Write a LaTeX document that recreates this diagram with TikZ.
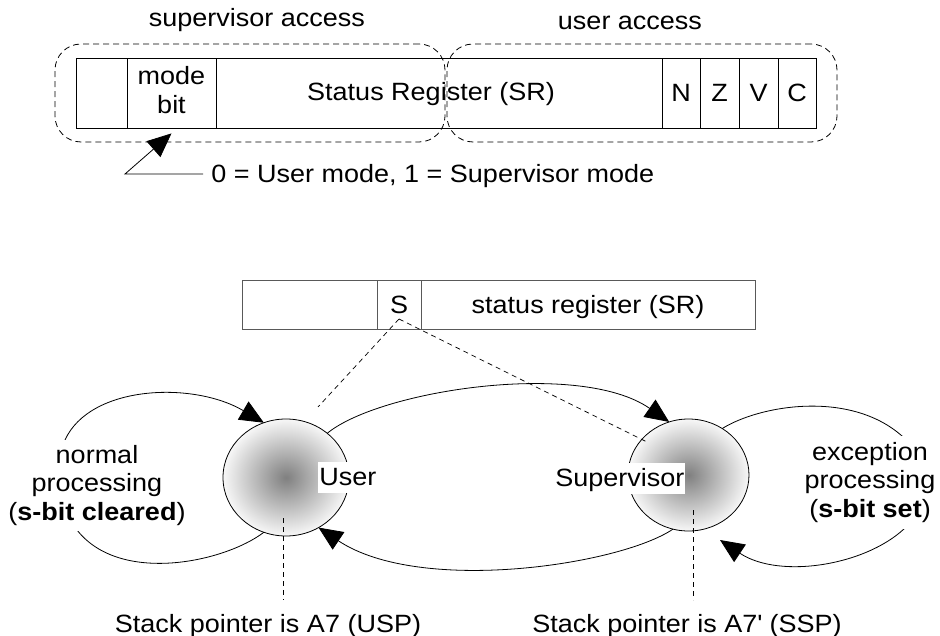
\documentclass[tikz,border=0pt]{standalone}
\usepackage{fontspec}
\setmainfont{Liberation Sans}[FakeStretch=1.08]
\usetikzlibrary{shapes.geometric,arrows.meta}
% soft grey ball used for the two processor states
\pgfdeclareradialshading{ballshade}{\pgfpoint{0bp}{0bp}}{color(0bp)=(black!50); color(25bp)=(black!3); color(50bp)=(black!3)}
\begin{document}
\begin{tikzpicture}[x=1pt,y=-1pt,line width=0.8pt,
  every node/.style={font=\fontsize{25}{28.5}\selectfont},
  cell/.style={draw,inner sep=0pt,text height=18pt,text depth=0pt},
  topcell/.style={cell,minimum height=70pt},
  lowcell/.style={cell,draw=black!65,minimum height=49pt},
  txt/.style={inner sep=0pt,anchor=base},
  region/.style={draw,dash pattern=on 6pt off 4pt,rounded corners=26pt,
    minimum width=390pt,minimum height=98pt,inner sep=0pt},
  state/.style={ellipse,draw,shade,shading=ballshade,inner sep=0pt,outer sep=0pt},
  statelabel/.style={fill=white,inner xsep=1pt,inner ysep=0pt,
    text height=23pt,text depth=8pt,anchor=base west},
  loopnote/.style={fill=white,align=center,inner xsep=2pt},
  arr/.style={-{Triangle[length=24pt,width=21pt]}},
  guide/.style={dash pattern=on 5pt off 4pt,line width=0.7pt},
]
\useasboundingbox (0,0) rectangle (940,636);

% ---------- status register with access regions ----------
\node[topcell,minimum width=51pt]  (c0)    at (101.5,93) {};
\node[topcell,minimum width=89pt]  (cmode) at (171.5,93) {};
\node[topcell,minimum width=446pt] (csr)   at (439,93) {};
\node[topcell,minimum width=38pt]  (cN)    at (681,93) {N};
\node[topcell,minimum width=39pt]  (cZ)    at (719.5,93) {Z};
\node[topcell,minimum width=39pt]  (cV)    at (758.5,93) {V};
\node[topcell,minimum width=38pt]  (cC)    at (797,93) {C};
\node[align=center,inner sep=0pt] (modebit) at (171.5,90) {mode\\bit};
\node[txt] (srtext) at (431,101) {Status Register (SR)};

\node[region] (supregion) at (250,93) {};
\node[region] (usrregion) at (642,93) {};
\node[txt] (supacc) at (257,27) {supervisor access};
\node[txt] (usracc) at (630,30) {user access};

\node[txt,anchor=base west,inner xsep=8pt,text height=18pt,text depth=0pt]
  (note) at (203,183) {0 = User mode, 1 = Supervisor mode};
\draw[arr] (note.west) -- ++(-78,0) coordinate (kink) -- ([yshift=-5pt]cmode.south);

% ---------- S bit register ----------
\node[lowcell,minimum width=135pt] (b0)  at (309.5,304.5) {};
\node[lowcell,minimum width=44pt]  (bs)  at (399,304.5) {S};
\node[lowcell,minimum width=334pt] (bsr) at (588,304.5) {status register (SR)};

% ---------- processor states ----------
\node[state,minimum width=126pt,minimum height=117pt] (user) at (286,477.5) {};
\node[state,minimum width=121pt,minimum height=112pt] (sup)  at (688.5,475) {};

% transitions
\draw[arr] (user.47) .. controls (380,390) and (580,360) .. (sup.110);
\draw[arr] (sup.254) .. controls (620,565) and (420,595) .. (user.303);

% self loops
\draw[arr] (user.248) .. controls (225,562) and (120,585) .. (77,530)
  .. controls (52,501) and (52,469) .. (65,440)
  .. controls (90,385) and (193,381) .. (user.112);
\coordinate (suparr) at (720,540);
\draw[arr] (sup.54) .. controls (760,405) and (850,390) .. (902,436)
  .. controls (932,463) and (938,493) .. (908,525)
  .. controls (870,565) and (780,580) .. (suparr);

% dashed guides
\coordinate (sfoot) at (399,319);
\coordinate (guideU) at (318,407);
\coordinate (guideS) at (647,442);
\draw[guide] (sfoot) -- (guideU);
\draw[guide] (sfoot) -- (guideS);
\coordinate (uspA) at (283,518);
\coordinate (uspB) at (283,600);
\coordinate (sspA) at (693,510);
\coordinate (sspB) at (693,600);
\draw[guide] (uspA) -- (uspB);
\draw[guide] (sspA) -- (sspB);

% labels
\node[statelabel] (userlbl) at (318,485) {User};
\node[statelabel] (suplbl) at (554,486) {Supervisor};
\node[loopnote,inner ysep=5.5pt] (normal) at (97,485.2) {normal\\processing\\(\textbf{s-bit cleared})};
\node[loopnote,inner ysep=6.5pt] (exc) at (870,482.2) {exception\\processing\\(\textbf{s-bit set})};
\node[txt] (usp) at (268,632) {Stack pointer is A7 (USP)};
\node[txt] (ssp) at (687,632) {Stack pointer is A7\textquotesingle{} (SSP)};
\end{tikzpicture}
\end{document}
